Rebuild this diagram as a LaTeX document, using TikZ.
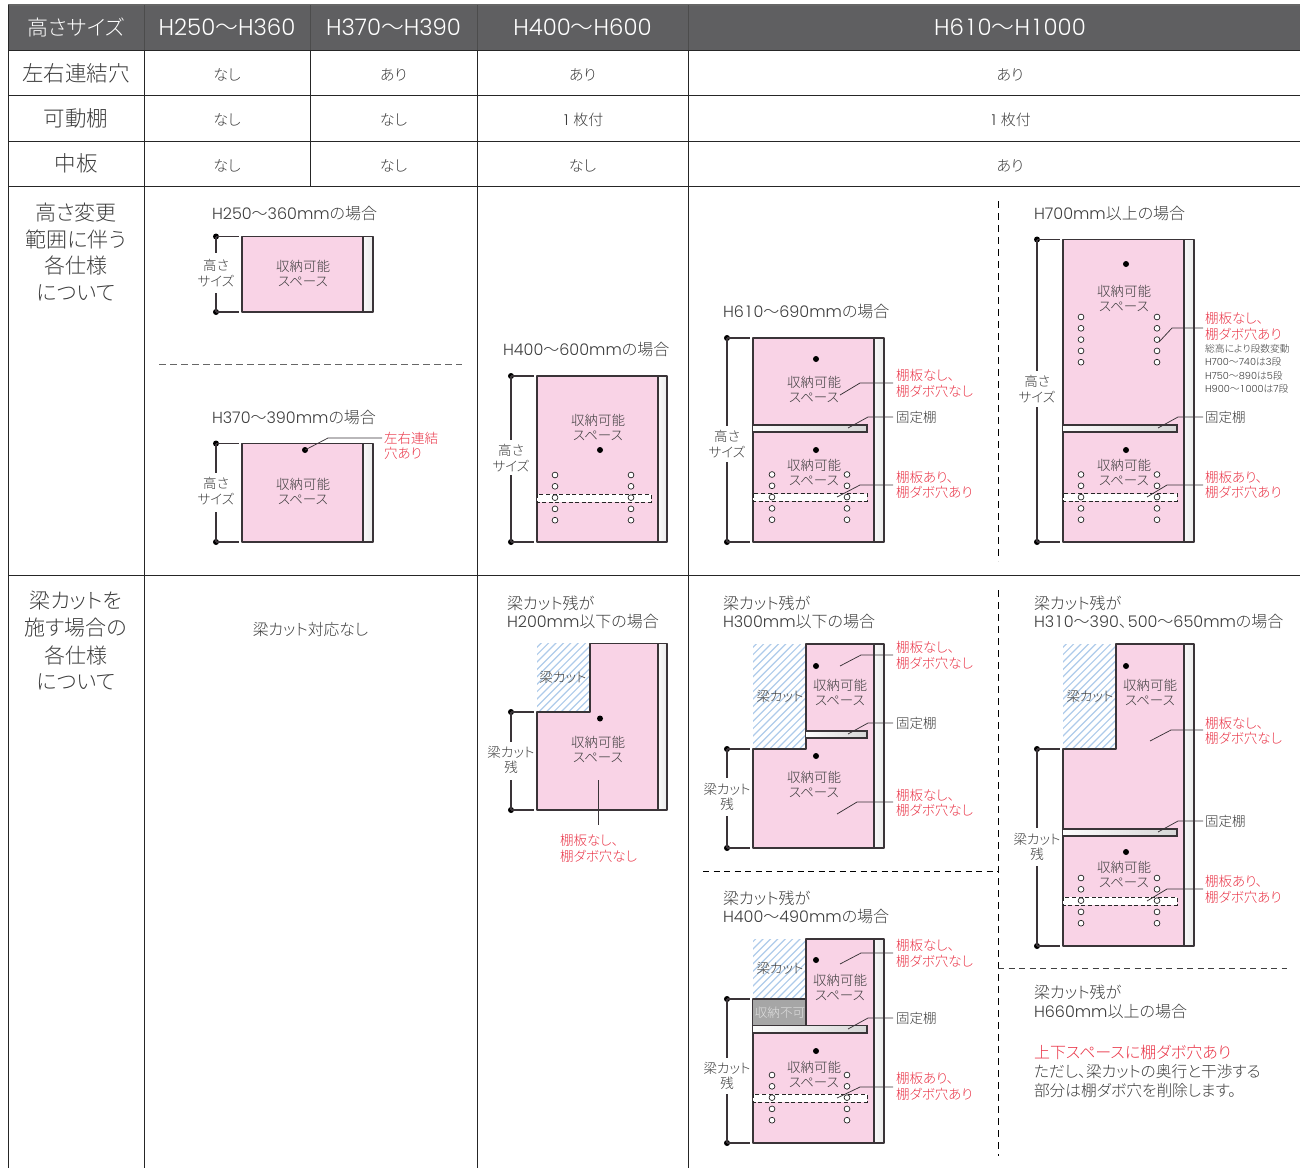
\documentclass[tikz,border=0pt]{standalone}
\usepackage{fontspec}
\setmainfont[RawFeature=+palt]{Noto Sans CJK JP Light}
\newfontfamily\latf{Poppins Light}
\newcommand{\la}[1]{{\latf #1}}
\newcommand{\one}{\makebox[0.6em]{1}}
\definecolor{hdr}{HTML}{5F5F61}
\definecolor{txtc}{HTML}{3C3C3C}
\definecolor{redc}{HTML}{E93346}
\definecolor{pinkc}{HTML}{F9D3E6}
\definecolor{linec}{HTML}{3A3438}
\definecolor{hatchc}{HTML}{AECBEA}
\newcount\nid
\tikzset{
  txt/.style={inner sep=0pt,outer sep=0pt,text=txtc,align=center},
  lefttxt/.style={txt,anchor=west,align=left},
  redt/.style={lefttxt,text=redc},
  leader/.style={draw=linec,line width=0.75pt},
  outl/.style={draw=linec,line width=1.1pt,line join=round},
  grid/.style={draw=black!85,line width=0.9pt},
  dimln/.style={draw=linec,line width=1.05pt},
  dotmark/.style={circle,fill=black,inner sep=0pt,minimum size=6pt},
  holem/.style={circle,fill=white,draw=black!85,line width=0.7pt,inner sep=0pt,minimum size=5.8pt},
}
\newcommand{\fs}[1]{\fontsize{#1}{#1}\selectfont}
\newcommand{\T}[4][]{\global\advance\nid by 1 \node[txt,#1] (t\the\nid) at (#2,#3) {#4};}
\newcommand{\Red}[3]{\global\advance\nid by 1 \node[redt] (t\the\nid) at (#1,#2) {\fs{13.5}#3};}
\newcommand{\Lb}[3]{\global\advance\nid by 1 \node[lefttxt] (t\the\nid) at (#1,#2) {\fs{13.5}#3};}
\newcommand{\Ti}[3]{\global\advance\nid by 1 \node[lefttxt] (t\the\nid) at (#1,#2+0.7) {\fs{16}#3};}
\newcommand{\Sp}[2]{\T{#1}{#2}{\fs{13.5}収納可能}\T{#1}{#2+15.5}{\fs{13.5}スペース}}
\newcommand{\Dt}[2]{\global\advance\nid by 1 \node[dotmark] (t\the\nid) at (#1,#2) {};}
% side panel and outline: x left, y top, x pink right, x right, y bottom
\newcommand{\Side}[4]{\shade[left color=black!2,right color=black!8] (#1,#2) rectangle (#3,#4);\draw[outl] (#1,#2)--(#3,#2)--(#3,#4)--(#1,#4);}
\newcommand{\Cab}[5]{\fill[pinkc] (#1,#2) rectangle (#3,#5);\Side{#3}{#2}{#4}{#5}\draw[outl] (#1,#2) rectangle (#3,#5);}
% cut cabinet: xl, ytop, xstep, ystep, xp, xr, ybot
\newcommand{\Cut}[7]{%
  \begin{scope}\clip (#1,#2) rectangle (#3,#4);
  \foreach \k in {0,...,28}{\draw[hatchc,line width=1.2pt] ({#1-130+\k*7.4},{#4+6}) -- ++(130,-130);}
  \end{scope}
  \fill[pinkc] (#3,#2)--(#5,#2)--(#5,#7)--(#1,#7)--(#1,#4)--(#3,#4)--cycle;
  \Side{#5}{#2}{#6}{#7}
  \draw[outl] (#3,#2)--(#5,#2)--(#5,#7)--(#1,#7)--(#1,#4)--(#3,#4)--cycle;}
% dimension: x, y1, y2, gap1, gap2
\newcommand{\Dm}[5]{\Dt{#1}{#2}\Dt{#1}{#3}\draw[dimln] (#1,#2)--++(23,0);\draw[dimln] (#1,#3)--++(23,0);\draw[dimln] (#1,#2)--(#1,#4);\draw[dimln] (#1,#5)--(#1,#3);}
\newcommand{\Holes}[3]{\foreach \i in {0,1,2,3,4}{\node[holem] (h#1x\the\nid x\i) at (#1,{#3+\i*11.3}) {};\node[holem] (h#2x\the\nid x\i) at (#2,{#3+\i*11.3}) {};}}
\newcommand{\Fix}[4]{\shade[left color=black!1,right color=black!16] (#1,#3) rectangle (#2,#4);\draw[draw=linec,line width=1.05pt] (#1,#3)--(#2,#3)--(#2,#4)--(#1,#4);}
\newcommand{\Dash}[4]{\fill[white] (#1,#3) rectangle (#2,#4);\draw[draw=black!85,line width=0.9pt,dashed,dash pattern=on 4pt off 2.6pt] (#1,#3) rectangle (#2,#4);}
\newcommand{\Ld}[6]{\draw[leader] (#1,#2)--(#3,#4)--(#5,#6);}
\newcommand{\TwoT}[4]{\T{#1}{#2}{\fs{13.5}#3}\T{#1}{#2+15.8}{\fs{13.5}#4}}
\begin{document}
\begin{tikzpicture}[x=1pt,y=-1pt]
\useasboundingbox (0,0) rectangle (1300,1168);
% table
\fill[hdr] (8,5) rectangle (1300,50);
\draw[grid,draw=black!60,line width=1.1pt] (8,5)--(1300,5);
\draw[grid] (8,50)--(1300,50) (8,95.5)--(1300,95.5) (8,141)--(1300,141) (8,186)--(1300,186) (8,575.5)--(1300,575.5);
\draw[grid] (8,5)--(8,1168) (144,5)--(144,1168) (477,5)--(477,1168) (688.5,5)--(688.5,1168) (310,5)--(310,186);
\draw[draw=black!70,line width=0.9pt] (144,5)--(144,50) (310,5)--(310,50) (477,5)--(477,50) (688.5,5)--(688.5,50);
% header text
\T[text=white]{76}{27}{\fs{21}高さサイズ}
\T[text=white]{227}{27}{\fs{22.8}\la{H250}〜\la{H360}}
\T[text=white]{393.5}{27}{\fs{22.8}\la{H370}〜\la{H390}}
\T[text=white]{582.5}{27}{\fs{22.8}\la{H400}〜\la{H600}}
\T[text=white]{1010}{27}{\fs{22.8}\la{H6\one0}〜\la{H\one000}}
\T{76}{73}{\fs{21.5}左右連結穴}
\T{76}{118}{\fs{21.5}可動棚}
\T{76}{163.5}{\fs{21.5}中板}
\T{227}{75}{\fs{15}なし}\T{393.5}{75}{\fs{15}あり}\T{582.5}{75}{\fs{15}あり}\T{1010}{75}{\fs{15}あり}
\T{227}{120}{\fs{15}なし}\T{393.5}{120}{\fs{15}なし}\T{582.5}{120}{\fs{15}\la{\one}\,枚付}\T{1010}{120}{\fs{15}\la{\one}\,枚付}
\T{227}{165.5}{\fs{15}なし}\T{393.5}{165.5}{\fs{15}なし}\T{582.5}{165.5}{\fs{15}なし}\T{1010}{165.5}{\fs{15}あり}
\T{76}{213}{\fs{21}高さ変更}\T{76}{239.5}{\fs{21}範囲に伴う}\T{76}{266}{\fs{21}各仕様}\T{76}{292.5}{\fs{21}について}
\T{76}{601}{\fs{21}梁カットを}\T{76}{628}{\fs{21}施す場合の}\T{76}{655}{\fs{21}各仕様}\T{76}{681.5}{\fs{21}について}
\T{310.5}{629.5}{\fs{15.8}梁カット対応なし}
% dashed separators
\draw[draw=black!60,line width=1pt,dash pattern=on 6.5pt off 4.5pt] (159,364)--(462,364);
\draw[draw=black,line width=1pt,dash pattern=on 7pt off 5pt] (998,201)--(998,561) (998,590)--(998,1156);
\draw[draw=black,line width=1pt,dash pattern=on 6pt off 4.5pt] (703,871)--(998,871);
\draw[draw=black!75,line width=1pt,dash pattern=on 6pt off 4.5pt] (998,968.5)--(1287,968.5);
% A H250
\Ti{212}{213}{\la{H250}〜\la{360mm}の場合}
\Cab{242}{236.5}{363}{373}{312}
\Dm{216}{236.5}{312}{253}{293}
\TwoT{216}{265}{高さ}{サイズ}
\Sp{303}{266.5}
% B H370
\Ti{212}{417}{\la{H370}〜\la{390mm}の場合}
\Cab{242}{443.5}{363}{373}{542}
\Dm{216}{443.5}{542}{473}{512}
\TwoT{216}{483.5}{高さ}{サイズ}
\Sp{303}{484.5}
\Dt{305}{450}
\Ld{305}{450}{328}{438}{382}{438}
\Red{384}{438}{左右連結}\Red{384}{453.5}{穴あり}
% C H400
\Ti{503}{349}{\la{H400}〜\la{600mm}の場合}
\Cab{537}{376}{658}{667}{542}
\Dm{511}{376}{542}{440}{475}
\TwoT{511}{450}{高さ}{サイズ}
\Sp{598}{420}
\Dt{600}{450}
\Dash{537}{651}{494}{502}
\Holes{555}{631}{475}
% D H610
\Ti{723}{311}{\la{H6\one0}〜\la{690mm}の場合}
\Cab{753}{338}{874}{884}{542}
\Dm{727}{338}{542}{426}{462}
\TwoT{727}{436.5}{高さ}{サイズ}
\Dt{816}{359}\Dt{816}{450}
\Fix{753}{867}{425}{432}
\Dash{753}{867}{493.5}{501}
\Sp{814}{382}\Sp{814}{465}
\Holes{772}{847}{474.5}
\Ld{840}{395}{860}{383}{893}{383}
\Ld{848}{428}{868}{417}{893}{417}
\Ld{837}{497}{860}{485}{893}{485}
\Red{896}{375}{棚板なし、}\Red{896}{391}{棚ダボ穴なし}
\Lb{896}{417}{固定棚}
\Red{896}{477}{棚板あり、}\Red{896}{492.5}{棚ダボ穴あり}
% E H700
\Ti{1034}{213}{\la{H700mm}以上の場合}
\Cab{1063}{239.5}{1184}{1194}{542}
\Dm{1037}{239.5}{542}{371}{407}
\TwoT{1037}{381}{高さ}{サイズ}
\Dt{1126}{264}\Dt{1126}{450}
\Fix{1063}{1177}{425}{432}
\Dash{1063}{1177}{493.5}{501}
\Sp{1124}{291}\Sp{1124}{465}
\Holes{1081}{1157}{317}\Holes{1081}{1157}{474.5}
\Ld{1159}{342}{1172}{328}{1203}{328}
\Ld{1158}{428}{1178}{417}{1203}{417}
\Ld{1147}{497}{1167}{485}{1203}{485}
\Red{1205}{318}{棚板なし、}\Red{1205}{334}{棚ダボ穴あり}
\global\advance\nid by 1 \node[lefttxt] (t\the\nid) at (1205,349) {\fs{9.8}総高により段数変動};
\global\advance\nid by 1 \node[lefttxt] (t\the\nid) at (1205,362) {\fs{9.8}\la{H700}〜\la{740}は\la{3}段};
\global\advance\nid by 1 \node[lefttxt] (t\the\nid) at (1205,375.5) {\fs{9.8}\la{H750}〜\la{890}は\la{5}段};
\global\advance\nid by 1 \node[lefttxt] (t\the\nid) at (1205,389) {\fs{9.8}\la{H900}〜\la{\one000}は\la{7}段};
\Lb{1205}{417}{固定棚}
\Red{1205}{477}{棚板あり、}\Red{1205}{492.5}{棚ダボ穴あり}
% F H200
\Ti{507}{603}{梁カット残が}\Ti{507}{621}{\la{H200mm}以下の場合}
\Cut{537}{643.5}{590}{712}{658}{667}{810}
\Dm{511}{712}{810}{742}{780}
\TwoT{511}{752}{梁カット}{残}
\T{563}{677}{\fs{13.5}梁カット}
\Dt{600}{718.5}
\Sp{598}{742}
\draw[leader] (598,780)--(598,825);
\Red{560}{840}{棚板なし、}\Red{560}{856}{棚ダボ穴なし}
% G H300
\Ti{723}{603}{梁カット残が}\Ti{723}{621}{\la{H300mm}以下の場合}
\Cut{753}{644}{806}{749}{874}{884}{848}
\Dm{727}{749}{848}{778}{816}
\TwoT{727}{789}{梁カット}{残}
\T{780}{696}{\fs{13.5}梁カット}
\Dt{816}{666}\Dt{816}{756}
\Fix{806}{867}{731}{738}
\Sp{840}{685}\Sp{814}{777}
\Ld{840}{666}{861}{655}{893}{655}
\Ld{848}{734}{868}{723}{893}{723}
\Ld{837}{814}{857}{802}{893}{802}
\Red{896}{647}{棚板なし、}\Red{896}{663}{棚ダボ穴なし}
\Lb{896}{723}{固定棚}
\Red{896}{795}{棚板なし、}\Red{896}{810.5}{棚ダボ穴なし}
% H H400
\Ti{723}{898}{梁カット残が}\Ti{723}{916}{\la{H400}〜\la{490mm}の場合}
\Cut{753}{939}{806}{999}{874}{884}{1143}
\fill[black!35] (753,999) rectangle (806,1025);
\draw[outl] (753,999)--(806,999)--(806,1025);
\Dm{727}{999}{1143}{1058}{1094}
\TwoT{727}{1068}{梁カット}{残}
\T{780}{968}{\fs{13.5}梁カット}
\T[text=white!88!black]{780}{1013}{\fs{12.6}収納不可}
\Dt{816}{960}\Dt{816}{1051}
\Fix{753}{867}{1025.5}{1033}
\Dash{753}{867}{1094}{1102}
\Sp{840}{980}\Sp{814}{1067}
\Holes{772}{847}{1075}
\Ld{840}{964}{861}{953}{893}{953}
\Ld{848}{1029}{868}{1018}{893}{1018}
\Ld{837}{1098}{860}{1087}{893}{1087}
\Red{896}{945}{棚板なし、}\Red{896}{961}{棚ダボ穴なし}
\Lb{896}{1018}{固定棚}
\Red{896}{1078.5}{棚板あり、}\Red{896}{1094}{棚ダボ穴あり}
% I H310
\Ti{1034}{603}{梁カット残が}\Ti{1034}{621}{\la{H3\one0}〜\la{390}、\kern1pt\la{500}〜\la{650mm}の場合}
\Cut{1063}{644}{1116}{749}{1184}{1194}{946}
\Dm{1037}{749}{946}{828}{866}
\TwoT{1037}{839}{梁カット}{残}
\T{1090}{696}{\fs{13.5}梁カット}
\Dt{1126}{666}\Dt{1126}{852}
\Fix{1063}{1177}{829}{836}
\Dash{1063}{1177}{897}{905}
\Sp{1150}{685}\Sp{1124}{867}
\Holes{1081}{1157}{878}
\Ld{1150}{741}{1171}{730}{1203}{730}
\Ld{1158}{832}{1178}{821}{1203}{821}
\Ld{1147}{901}{1167}{889}{1203}{889}
\Red{1205}{723}{棚板なし、}\Red{1205}{738.5}{棚ダボ穴なし}
\Lb{1205}{821}{固定棚}
\Red{1205}{881.5}{棚板あり、}\Red{1205}{897}{棚ダボ穴あり}
% bottom note
\Ti{1034}{992}{梁カット残が}\Ti{1034}{1011}{\la{H660mm}以上の場合}
\global\advance\nid by 1 \node[redt] (t\the\nid) at (1034,1052.7) {\fs{16}上下スペースに棚ダボ穴あり};
\global\advance\nid by 1 \node[lefttxt] (t\the\nid) at (1034,1071.7) {\fs{15.7}ただし、梁カットの奥行と干渉する};
\global\advance\nid by 1 \node[lefttxt] (t\the\nid) at (1034,1090.7) {\fs{15.7}部分は棚ダボ穴を削除します。};
\end{tikzpicture}
\end{document}
